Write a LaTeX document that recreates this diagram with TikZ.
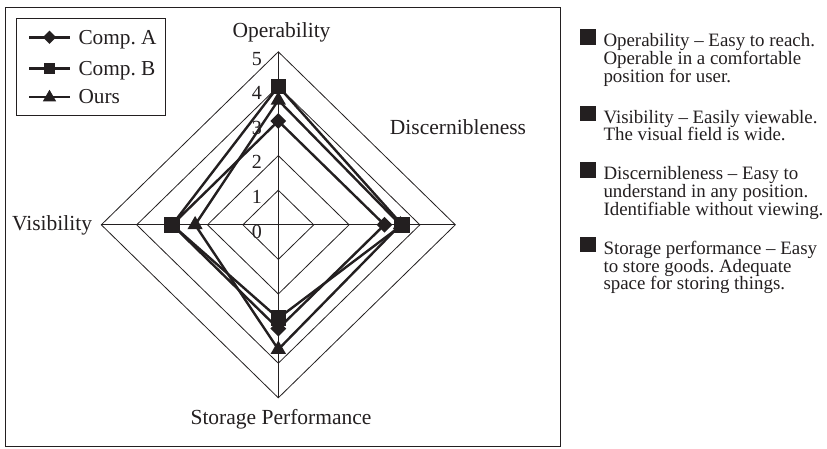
\documentclass[tikz,border=0pt]{standalone}
\usepackage{fontspec}
\setmainfont{Liberation Serif}
\usetikzlibrary{shapes.geometric}
\definecolor{ink}{HTML}{231F20}
\frenchspacing
\begin{document}
\begin{tikzpicture}[x=1pt,y=-1pt,
  every node/.style={text=ink},
  frameline/.style={draw=ink, line width=1pt},
  gridline/.style={draw=ink, line width=0.8pt},
  dataline/.style={draw=ink, line width=2.4pt, line join=round},
  mkA/.style={diamond, fill=ink, inner sep=0pt, minimum width=16pt, minimum height=16pt, aspect=1},
  mkB/.style={rectangle, fill=ink, inner sep=0pt, minimum width=15.5pt, minimum height=15.5pt},
  mkC/.style={regular polygon, regular polygon sides=3, fill=ink, inner sep=0pt, minimum size=17.7pt},
  smA/.style={mkA, minimum width=13.5pt, minimum height=13.5pt},
  smB/.style={mkB, minimum width=11.5pt, minimum height=11.5pt},
  smC/.style={mkC, minimum size=15.5pt},
  axlbl/.style={font=\fontsize{21.5}{24}\selectfont, inner sep=0pt},
  numlbl/.style={font=\fontsize{20}{22}\selectfont, inner sep=0pt, anchor=base east},
  leglbl/.style={font=\fontsize{21.3}{24}\selectfont, inner sep=0pt, anchor=base west},
  keybox/.style={rectangle, fill=ink, inner sep=0pt, minimum width=16pt, minimum height=15.5pt},
  desc/.style={font=\fontsize{18.9}{17.7}\selectfont, align=left, inner sep=0pt, anchor=north west}
]
\useasboundingbox (0,0) rectangle (827,448);
\fill[white] (0,0) rectangle (827,448);
% outer frame
\draw[frameline] (5,7.3) rectangle (560,446.5);

% radar chart
\begin{scope}[shift={(278.3,224.8)}, x=35.4pt, y=34.6pt]
  \foreach \r in {1,...,5}
    \draw[gridline] (0,\r) -- (\r,0) -- (0,-\r) -- (-\r,0) -- cycle;
  \draw[gridline] (0,5) -- (0,-5);
  \draw[gridline] (-5,0) -- (5,0);
  % data points
  \coordinate (a1) at (0,3);    \coordinate (a2) at (3,0);
  \coordinate (a3) at (0,-3);   \coordinate (a4) at (-3,0);
  \coordinate (b1) at (0,4);    \coordinate (b2) at (3.5,0);
  \coordinate (b3) at (0,-2.7); \coordinate (b4) at (-3,0);
  \coordinate (o1) at (0,3.6);  \coordinate (o2) at (3.45,0);
  \coordinate (o3) at (0,-3.6); \coordinate (o4) at (-2.35,0);
  % series A
  \draw[dataline] (a1) -- (a2) -- (a3) -- (a4) -- cycle;
  \foreach \i in {1,...,4} \node[mkA] (ma\i) at (a\i) {};
  % series Ours
  \draw[dataline] (o1) -- (o2) -- (o3) -- (o4) -- cycle;
  \foreach \i in {1,...,4} \node[mkC] (mo\i) at (o\i) {};
  % series B
  \draw[dataline] (b1) -- (b2) -- (b3) -- (b4) -- cycle;
  \foreach \i in {1,...,4} \node[mkB] (mb\i) at (b\i) {};
\end{scope}

% scale numbers
\foreach \k in {0,...,5}
  \node[numlbl] (n\k) at (262,{224.8-34.6*\k+13.3}) {\k};

% axis labels
\node[axlbl, anchor=base] (lop) at (281.5,37) {Operability};
\node[axlbl, anchor=base] (ldi) at (458,134) {Discernibleness};
\node[axlbl, anchor=base east] (lvi) at (92.3,230.7) {Visibility};
\node[axlbl, anchor=base] (lst) at (281,424) {Storage Performance};

% legend box
\draw[frameline] (16,18.3) rectangle (165.7,115.7);
\coordinate (la1) at (29,37.3); \coordinate (la2) at (70,37.3);
\coordinate (lb1) at (29,68.3); \coordinate (lb2) at (70,68.3);
\coordinate (lc1) at (29,96.7); \coordinate (lc2) at (70,96.7);
\draw[dataline] (la1) -- (la2);
\draw[dataline] (lb1) -- (lb2);
\draw[dataline] (lc1) -- (lc2);
\node[smA] (lma) at (49.5,37.3) {};
\node[smB] (lmb) at (49.5,68.3) {};
\node[smC] (lmc) at (49.5,97.5) {};
\node[leglbl] (lta) at (78.3,44.3) {Comp. A};
\node[leglbl] (ltb) at (78.3,75.5) {Comp. B};
\node[leglbl] (ltc) at (78.3,103.8) {Ours};

% right-hand descriptions
\node[keybox] (k1) at (588,37) {};
\node[keybox] (k2) at (588,113.5) {};
\node[keybox] (k3) at (588,170.2) {};
\node[keybox] (k4) at (588,244.5) {};
\node[desc] (t1) at (603.3,33.4) {Operability -- Easy to reach.\\Operable in a comfortable\\position for user.};
\node[desc] (t2) at (603.3,109.9) {Visibility -- Easily viewable.\\The visual field is wide.};
\node[desc] (t3) at (603.3,166.6) {Discernibleness -- Easy to\\understand in any position.\\Identifiable without viewing.};
\node[desc] (t4) at (603.3,240.9) {Storage performance -- Easy\\to store goods. Adequate\\space for storing things.};
\end{tikzpicture}
\end{document}
